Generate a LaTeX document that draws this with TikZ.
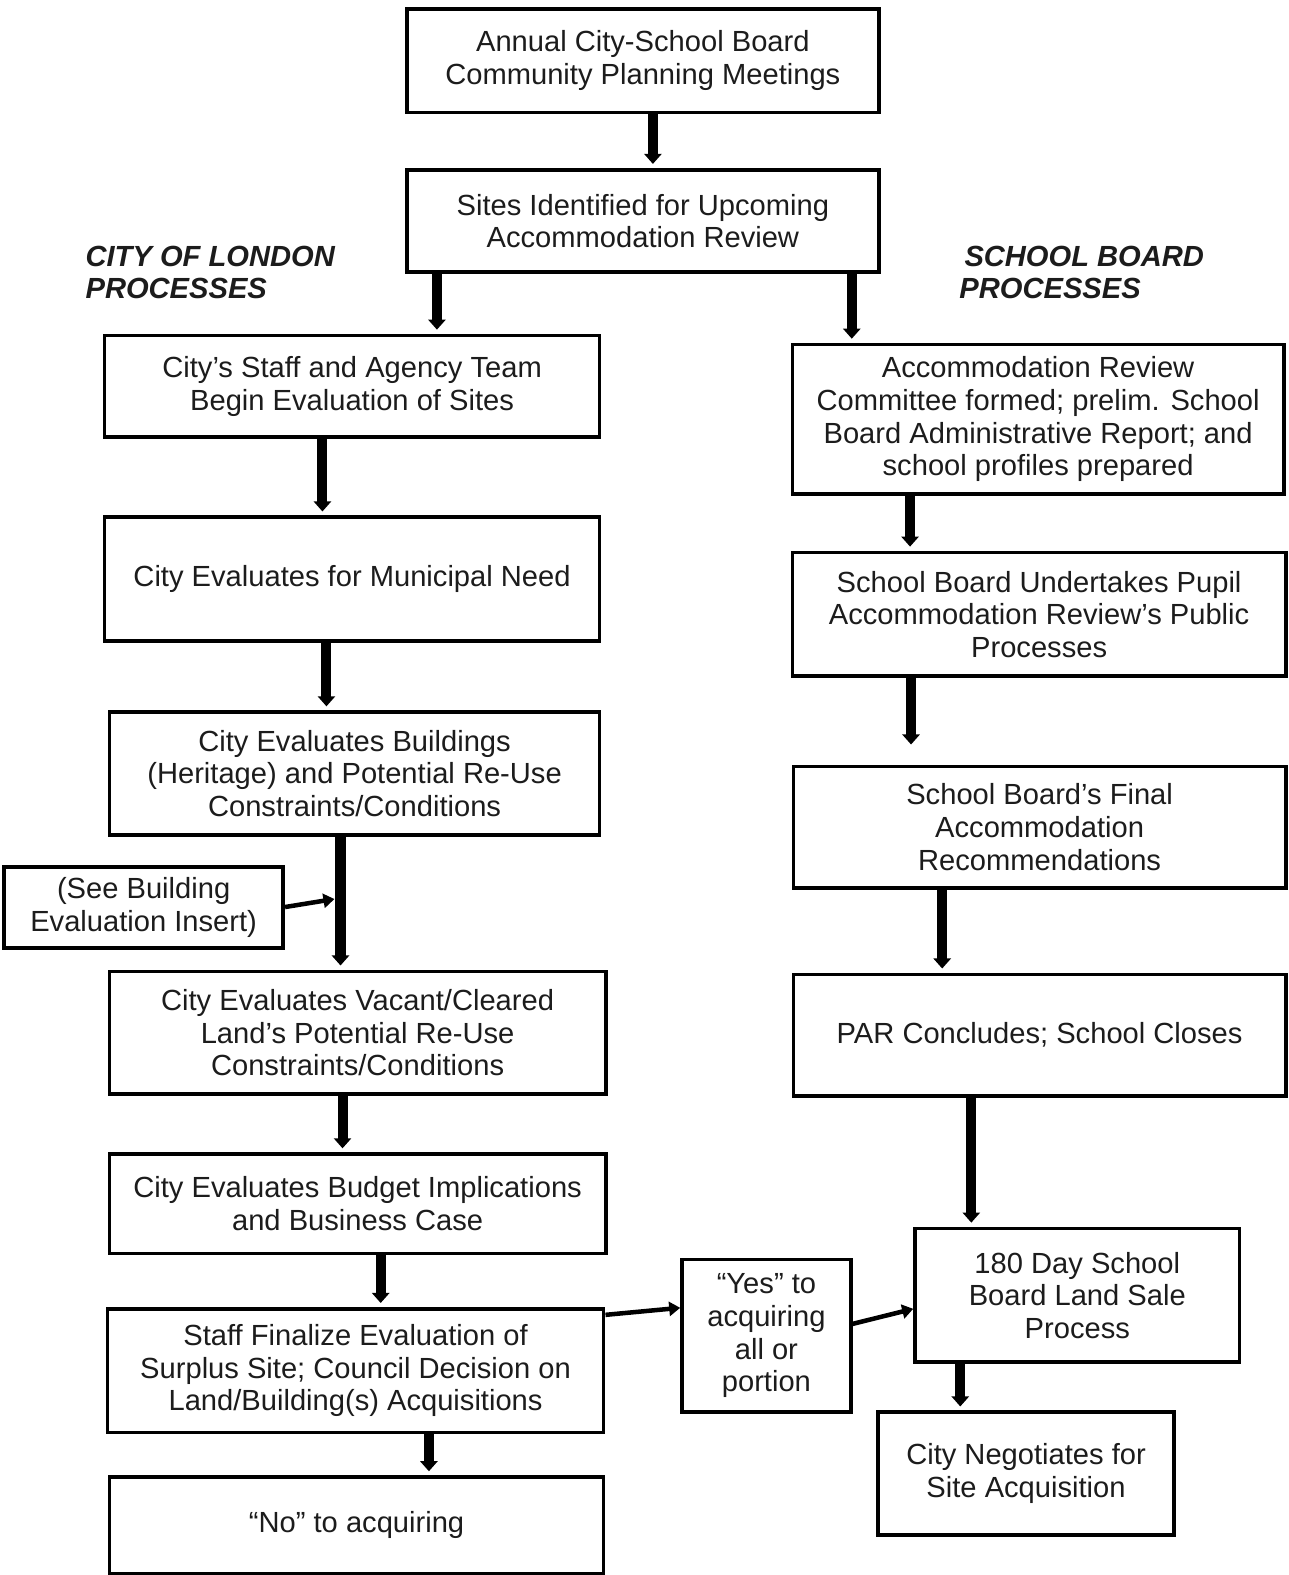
\documentclass[tikz,border=0pt]{standalone}
\usepackage{fontspec}
\setmainfont{Liberation Sans}
\usetikzlibrary{arrows.meta}
\definecolor{txt}{RGB}{28,28,28}
\begin{document}
\begin{tikzpicture}[x=1pt,y=-1pt,
  box/.style={draw=black, line width=3.6pt, inner sep=0pt, align=center, text=txt,
     font=\fontsize{29}{32.5}\selectfont},
  lbl/.style={inner sep=0pt, text=txt, font=\fontsize{29}{32.5}\selectfont\bfseries\itshape},
  flow/.style={line width=10pt, -{Triangle[width=17pt,length=10pt]}, shorten >=4pt},
  side/.style={line width=4.5pt, -{Triangle[width=14pt,length=11pt]}}]
\useasboundingbox (0,0) rectangle (1283,1568);
\fill[white] (0,0) rectangle (1283,1568);

\node[box, minimum width=470pt, minimum height=103pt] (top) at (640,60.5) {Annual City-School Board\\Community Planning Meetings};
\node[box, minimum width=470pt, minimum height=102pt] (sites) at (640,220) {Sites Identified for Upcoming\\Accommodation Review};
\node[box, minimum width=493pt, minimum height=101pt] (staff) at (350.5,384.5) {City’s Staff and Agency Team\\Begin Evaluation of Sites};
\node[box, minimum width=493pt, minimum height=123pt] (muni) at (350.5,576.5) {City Evaluates for Municipal Need};
\node[box, minimum width=488pt, minimum height=122pt] (bldg) at (353,770) {City Evaluates Buildings\\(Heritage) and Potential Re-Use\\Constraints/Conditions};
\node[box, minimum width=278pt, minimum height=81pt] (see) at (143,903.5) {(See Building\\Evaluation Insert)};
\node[box, minimum width=494pt, minimum height=122pt] (vacant) at (356,1028) {City Evaluates Vacant/Cleared\\Land’s Potential Re-Use\\Constraints/Conditions};
\node[box, minimum width=494pt, minimum height=99pt] (budget) at (356,1198.5) {City Evaluates Budget Implications\\and Business Case};
\node[box, minimum width=494pt, minimum height=123pt] (final) at (354,1364.5) {Staff Finalize Evaluation of\\Surplus Site; Council Decision on\\Land/Building(s) Acquisitions};
\node[box, minimum width=492pt, minimum height=96pt] (no) at (355,1518.5) {“No” to acquiring};

\node[box, minimum width=489pt, minimum height=149pt] (arc) at (1033.5,417.5) {Accommodation Review\\Committee formed; prelim. School\\Board Administrative Report; and\\school profiles prepared};
\node[box, minimum width=491pt, minimum height=123pt] (und) at (1034.5,611.5) {School Board Undertakes Pupil\\Accommodation Review’s Public\\Processes};
\node[box, minimum width=490pt, minimum height=121pt] (sbfinal) at (1035,823.5) {School Board’s Final\\Accommodation\\Recommendations};
\node[box, minimum width=490pt, minimum height=121pt] (par) at (1035,1030.5) {PAR Concludes; School Closes};
\node[box, minimum width=323pt, minimum height=133pt] (sale) at (1072.5,1289.5) {180 Day School\\Board Land Sale\\Process};
\node[box, minimum width=295pt, minimum height=122pt] (neg) at (1021.5,1467) {City Negotiates for\\Site Acquisition};
\node[box, minimum width=168pt, minimum height=152pt] (yes) at (763,1330) {“Yes” to\\acquiring\\all or\\portion};

\node[lbl, anchor=base west] (cl1) at (85,265) {CITY OF LONDON};
\node[lbl, anchor=base west] (cl2) at (85,297) {PROCESSES};
\node[lbl, anchor=base west] (sb1) at (960,265) {SCHOOL BOARD};
\node[lbl, anchor=base west] (sb2) at (955,297) {PROCESSES};

% vertical connectors
\draw[flow] (top.south -| 650,0) -- (sites.north -| 650,0);
\draw[flow] (sites.south -| 435,0) -- (staff.north -| 435,0);
\draw[flow] (sites.south -| 848,0) -- (arc.north -| 848,0);
\draw[flow] (staff.south -| 321,0) -- (muni.north -| 321,0);
\draw[flow] (muni.south -| 325,0) -- (bldg.north -| 325,0);
\draw[flow] (bldg.south -| 339,0) -- (vacant.north -| 339,0);
\draw[flow] (vacant.south -| 341,0) -- (budget.north -| 341,0);
\draw[flow] (budget.south -| 379,0) -- (final.north -| 379,0);
\draw[flow] (final.south -| 427,0) -- (no.north -| 427,0);
\draw[flow] (arc.south -| 906,0) -- (und.north -| 906,0);
\draw[flow] (und.south -| 907,0) -- ([yshift=16pt]sbfinal.north -| 907,0);
\draw[flow] (sbfinal.south -| 938,0) -- (par.north -| 938,0);
\draw[flow] (par.south -| 967,0) -- (sale.north -| 967,0);
\draw[flow] (sale.south -| 956,0) -- (neg.north -| 956,0);

% side connectors
\coordinate (join) at (333,895);
\draw[side] (see.east |- 0,903) -- (join);
\draw[side] (final.east |- 0,1309) -- (yes.west |- 0,1302);
\draw[side] (yes.east |- 0,1318) -- (sale.west |- 0,1303);
\end{tikzpicture}
\end{document}
